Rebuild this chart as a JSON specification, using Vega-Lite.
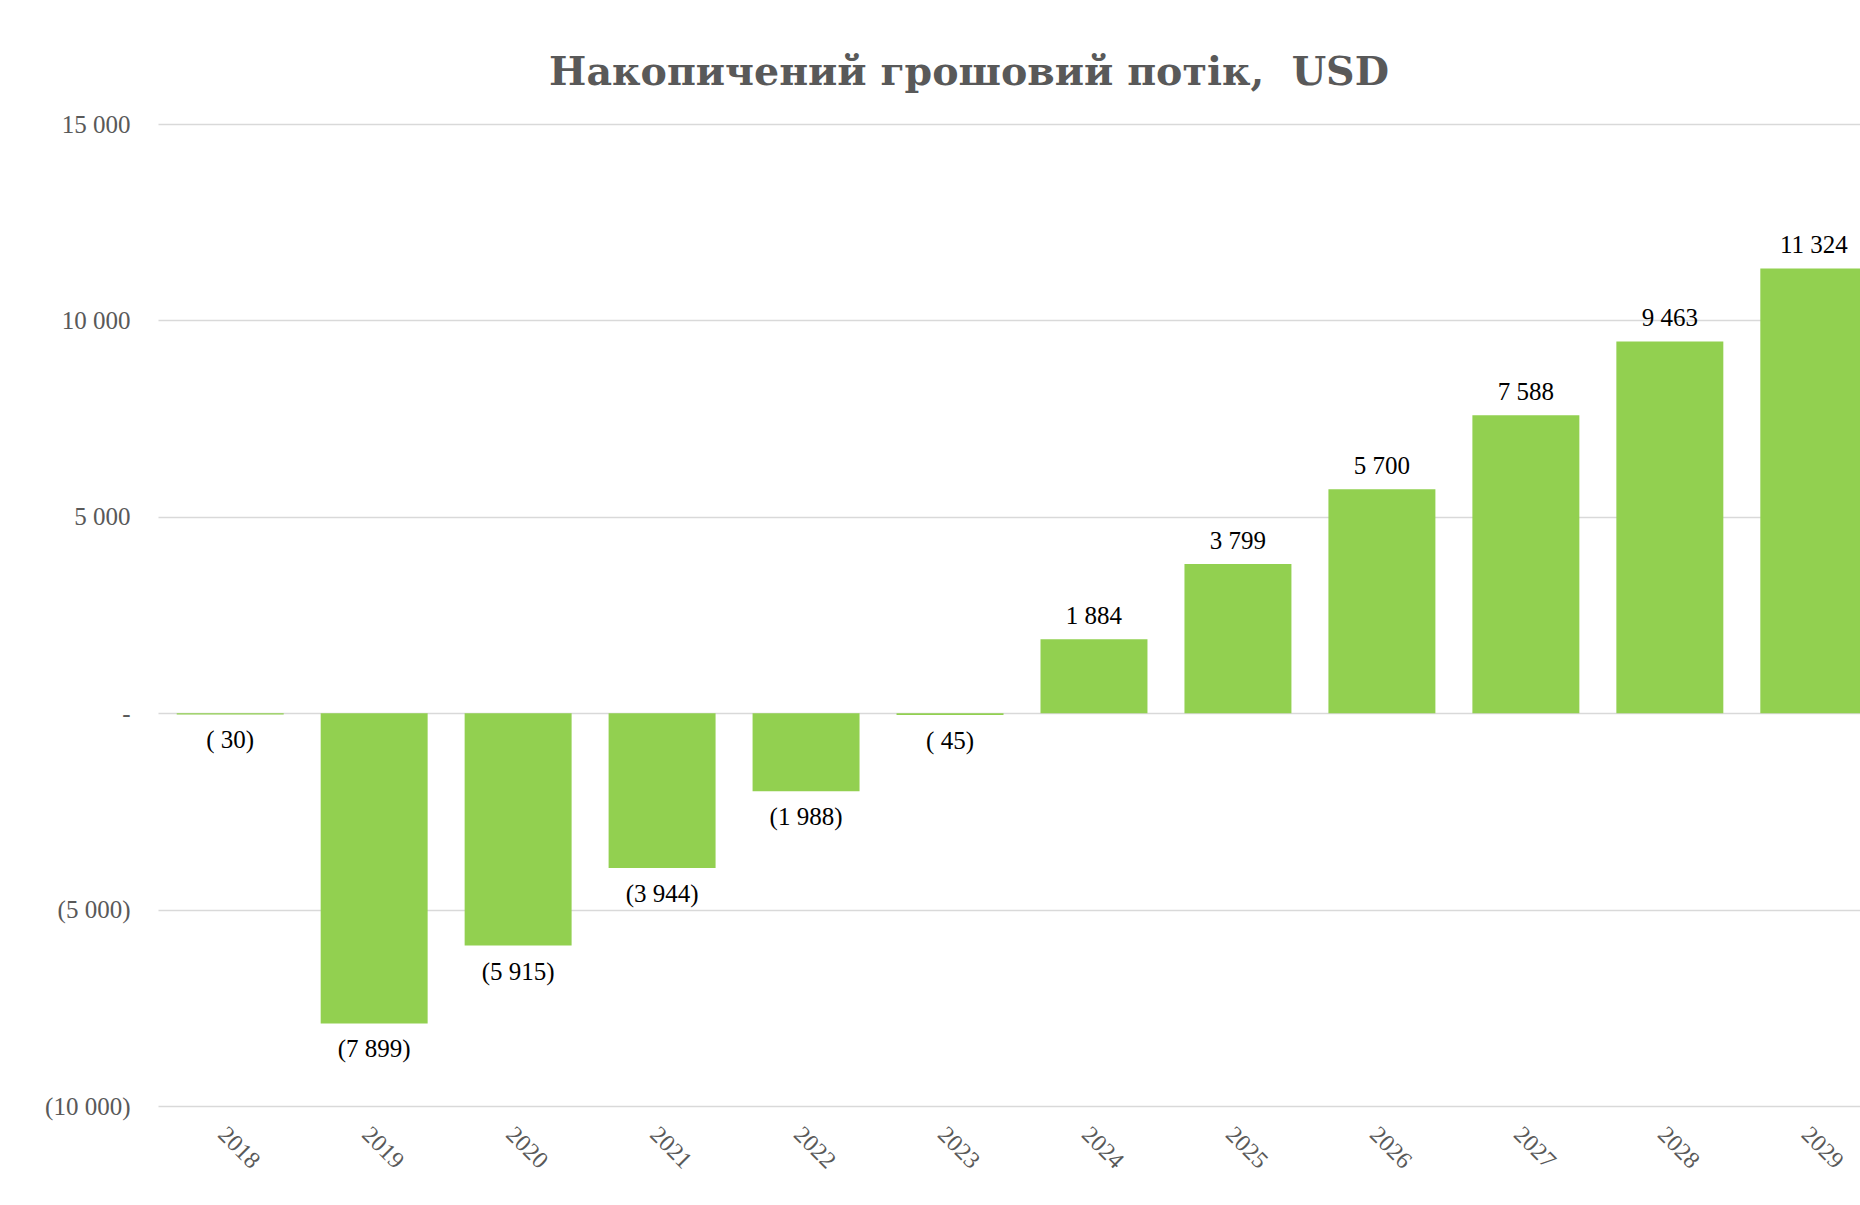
{
  "$schema": "https://vega.github.io/schema/vega-lite/v6.json",
  "autosize": {"type": "none"},
  "width": 1702,
  "height": 982,
  "padding": {"left": 158, "top": 124, "right": 0, "bottom": 99},
  "background": "#ffffff",
  "title": {
    "text": "Накопичений грошовий потік, \u00a0USD",
    "font": "DejaVu Serif",
    "fontSize": 39.5,
    "fontWeight": "bold",
    "color": "#595959",
    "anchor": "middle",
    "frame": "group",
    "baseline": "alphabetic",
    "offset": -12,
    "dx": -40
  },
  "data": {
    "values": [
      {"year": "2018", "value": -30, "label": "( 30)"},
      {"year": "2019", "value": -7899, "label": "(7 899)"},
      {"year": "2020", "value": -5915, "label": "(5 915)"},
      {"year": "2021", "value": -3944, "label": "(3 944)"},
      {"year": "2022", "value": -1988, "label": "(1 988)"},
      {"year": "2023", "value": -45, "label": "( 45)"},
      {"year": "2024", "value": 1884, "label": "1 884"},
      {"year": "2025", "value": 3799, "label": "3 799"},
      {"year": "2026", "value": 5700, "label": "5 700"},
      {"year": "2027", "value": 7588, "label": "7 588"},
      {"year": "2028", "value": 9463, "label": "9 463"},
      {"year": "2029", "value": 11324, "label": "11 324"}
    ]
  },
  "encoding": {
    "x": {
      "field": "year",
      "type": "ordinal",
      "scale": {"range": [0, 1728], "paddingInner": 0.257, "paddingOuter": 0.13},
      "axis": {
        "title": null,
        "labelAngle": 45,
        "labelAlign": "left",
        "labelBaseline": "top",
        "labelFont": "Liberation Serif",
        "labelFontSize": 24,
        "labelColor": "#595959",
        "labelPadding": 16,
        "ticks": false,
        "domain": false,
        "grid": false
      }
    },
    "y": {
      "field": "value",
      "type": "quantitative",
      "scale": {"domain": [-10000, 15000], "nice": false, "zero": false},
      "axis": {
        "title": null,
        "values": [-10000, -5000, 0, 5000, 10000, 15000],
        "labelExpr": "datum.value == 0 ? '-' : (datum.value < 0 ? '(' + replace(format(-datum.value, ','), ',', ' ') + ')' : replace(format(datum.value, ','), ',', ' '))",
        "labelFont": "Liberation Serif",
        "labelFontSize": 25,
        "labelColor": "#595959",
        "labelPadding": 28,
        "ticks": false,
        "domain": false,
        "grid": true,
        "gridColor": "#d9d9d9",
        "gridWidth": 1.5
      }
    }
  },
  "layer": [
    {"mark": {"type": "bar", "color": "#92d050"}},
    {
      "transform": [{"filter": "datum.value >= 0"}],
      "mark": {"type": "text", "font": "Liberation Serif", "fontSize": 25, "color": "#000000", "baseline": "middle", "dy": -23},
      "encoding": {"text": {"field": "label"}}
    },
    {
      "transform": [{"filter": "datum.value < 0"}],
      "mark": {"type": "text", "font": "Liberation Serif", "fontSize": 25, "color": "#000000", "baseline": "middle", "dy": 26},
      "encoding": {"text": {"field": "label"}}
    }
  ],
  "config": {"view": {"stroke": null}}
}
